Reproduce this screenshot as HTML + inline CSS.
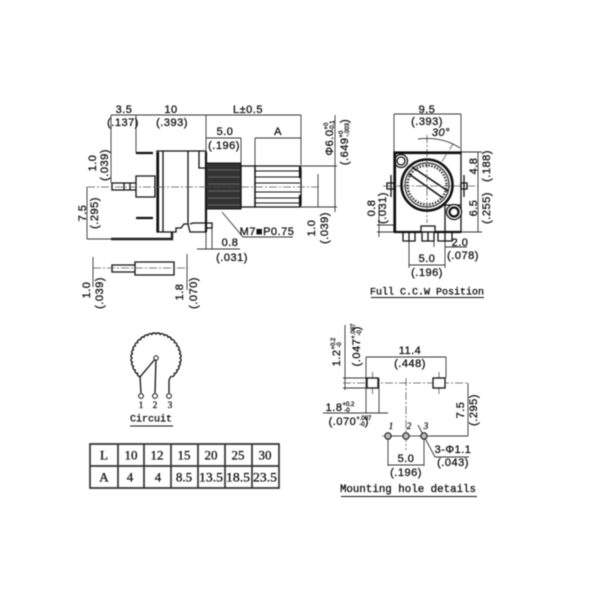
<!DOCTYPE html>
<html><head><meta charset="utf-8"><style>
html,body{margin:0;padding:0;background:#fff}
svg{display:block;filter:blur(.5px)}
text{font-family:"Liberation Sans",sans-serif;font-size:11px;letter-spacing:.5px;fill:#111;stroke:#111;stroke-width:.3;text-anchor:middle;dominant-baseline:central}
.m{font-family:"Liberation Mono",monospace;font-size:10px;letter-spacing:0}
.t{font-family:"Liberation Serif",serif;font-size:13px;letter-spacing:0}
.s{font-size:6px;letter-spacing:0}
.d{fill:none;stroke:#333;stroke-width:.9}
.c{fill:none;stroke:#555;stroke-width:.8;stroke-dasharray:8 2 2 2}
.o{fill:none;stroke:#111;stroke-width:1.3}
.b{fill:none;stroke:#111;stroke-width:2.2}
</style></head><body>
<svg width="600" height="600" viewBox="0 0 600 600" xmlns="http://www.w3.org/2000/svg">
<rect width="600" height="600" fill="#fff"/>

<!-- SIDE VIEW -->
<path class="d" d="M111 115H301M111 115V183M136 115V153M206 115V150M301 115V165M206 138H241M241 138V163M255 138H301M255 138V166"/>
<path class="d" d="M300 166H337M300 207H337M335 115V212M318 174V207M87 187V239M87 239H111M206 232V249M212 226V249M197 249H240"/>
<path class="o" d="M157 151H206V232H190L188 224H184L181 228H176V232H157Z"/>
<path class="o" d="M163 151V232M188 151V224M199 151V168H206"/>
<path class="b" d="M206 152V232M158 152V232"/>
<path class="o" d="M136 176H155V197H136ZM112 183H136V190H112ZM124 183V190M130 183V190"/>
<path class="b" d="M136 153H153M136 218H153"/>
<path d="M111 239H172V232" fill="none" stroke="#222" stroke-width="2.400"/>
<path class="o" d="M190 224L193 223H212V228H206"/>
<rect x="206" y="163" width="35" height="46" fill="#333" stroke="#111"/>
<path d="M208 170H240M208 177H240M208 184H240M208 191H240M208 198H240M208 205H240" stroke="#777" stroke-width=".7"/>
<path class="o" d="M241 166H255V207H241Z"/>
<path class="o" d="M255 166H299Q301 166 301 170V203Q301 207 299 207H255Z"/>
<path d="M255 171H300M255 177H300M255 183H300M255 192H300M255 198H300M255 203H300" stroke="#111" stroke-width="1.100"/>
<path class="b" d="M300 167V178M300 195V206"/>
<path class="c" d="M87 187H320"/>
<path class="d" d="M222 212L243 237H293"/>

<text x="124" y="110">3.5</text><text x="123" y="123">(.137)</text>
<text x="171" y="110">10</text><text x="172" y="123">(.393)</text>
<text x="248" y="110">L±0.5</text>
<text x="225" y="132">5.0</text><text x="224" y="146">(.196)</text>
<text x="278" y="132">A</text>
<text x="267" y="232">M7■P0.75</text>
<text x="230" y="243">0.8</text><text x="232" y="258">(.031)</text>
<text transform="translate(330 138) rotate(-90)">Φ6.0<tspan class="s" dy="-3">+0</tspan><tspan class="s" dy="6" dx="-8">-0.1</tspan></text>
<text transform="translate(345 142) rotate(-90)">(.649<tspan class="s" dy="-3">+0</tspan><tspan class="s" dy="6" dx="-6">-.003</tspan><tspan dy="-3">)</tspan></text>
<text transform="translate(312 228) rotate(-90)">1.0</text>
<text transform="translate(325 228) rotate(-90)">(.039)</text>
<text transform="translate(93 163) rotate(-90)">1.0</text>
<text transform="translate(105 165) rotate(-90)">(.039)</text>
<text transform="translate(83 213) rotate(-90)">7.5</text>
<text transform="translate(95 213) rotate(-90)">(.295)</text>

<!-- PIN DETAIL -->
<path class="d" d="M93 257V287M187 254V290"/>
<path class="o" d="M112 265H135V272H112ZM135 262H174V275H135Z"/>
<path class="c" d="M93 268H188"/>
<text transform="translate(87 290) rotate(-90)">1.0</text>
<text transform="translate(100 293) rotate(-90)">(.039)</text>
<text transform="translate(180 292) rotate(-90)">1.8</text>
<text transform="translate(194 293) rotate(-90)">(.070)</text>

<!-- FRONT VIEW -->
<path class="d" d="M394 114H461M394 114V152M461 114V152M461 152H482M461 232H482M478 152V232M379 208V237M377 225H394M377 232H394M409 241V268M445 241V268M409 265H445M434 241V247M445 247H467"/>
<path class="c" d="M427 135V223M383 186H478M427 185L453 144"/>
<path class="d" d="M418 139Q442 136 460 148"/>
<path class="o" d="M394 152H461V232H394Z"/>
<path class="b" d="M394 153H461M394 232H421M435 232H461M395 153V232"/>
<path class="o" d="M387 183H394V189H387ZM461 183H467V189H461ZM391 175V197M464 175V197"/>
<path class="o" d="M403 232H415V241H403ZM422 232H434V241H422ZM438 232H452V241H438ZM421 232V226H435V232M428 232V241M409 232V241M445 232V241"/>
<path class="o" d="M445 232V205H461"/>
<circle cx="401" cy="161" r="6.5" class="o" stroke-width="1.5"/><circle cx="401" cy="161" r="4" class="o"/>
<circle cx="454" cy="212" r="7.5" fill="#fff" stroke="#111" stroke-width="1.3"/><circle cx="454" cy="212" r="4.5" fill="none" stroke="#111" stroke-width="2.200"/>
<circle cx="427" cy="185" r="25.500" fill="#fff" stroke="#111" stroke-width="2.600"/>
<circle cx="427" cy="185" r="22" fill="none" stroke="#333" stroke-width="1.200"/>
<circle cx="427" cy="185" r="19.5" fill="none" stroke="#333" stroke-width="2.400" stroke-dasharray="1.5 1.5"/>
<path d="M409 174L443 198M412 167L448 191" stroke="#111" stroke-width="1.600" fill="none"/>
<path class="c" d="M402 186H452M427 160V210"/>
<text x="427" y="110">9.5</text><text x="427" y="122">(.393)</text>
<text x="441" y="133" font-style="italic">30°</text>
<text transform="translate(474 166) rotate(-90)">4.8</text>
<text transform="translate(487 166) rotate(-90)">(.188)</text>
<text transform="translate(474 208) rotate(-90)">6.5</text>
<text transform="translate(487 208) rotate(-90)">(.255)</text>
<text transform="translate(372 208) rotate(-90)">0.8</text>
<text transform="translate(383 208) rotate(-90)">(.031)</text>
<text x="460" y="243">2.0</text><text x="463" y="256">(.078)</text>
<text x="427" y="259">5.0</text><text x="427" y="273">(.196)</text>
<text class="m" x="427" y="293">Full C.C.W Position</text>
<path d="M371 297.500H484" stroke="#111" stroke-width="1"/>

<!-- CIRCUIT -->
<path fill="none" stroke="#111" stroke-width="1.300" d="M140.600 376.400A2.4 2.4 0 0 1 137.600 373.400A2.4 2.4 0 0 1 135.200 370A2.4 2.4 0 0 1 133.400 366.200A2.4 2.4 0 0 1 132.400 362.200A2.4 2.4 0 0 1 132 358A2.4 2.4 0 0 1 132.400 353.800A2.4 2.4 0 0 1 133.400 349.800A2.4 2.4 0 0 1 135.200 346A2.4 2.4 0 0 1 137.600 342.600A2.4 2.4 0 0 1 140.600 339.600A2.4 2.4 0 0 1 144 337.200A2.4 2.4 0 0 1 147.800 335.400A2.4 2.4 0 0 1 151.800 334.400A2.4 2.4 0 0 1 156 334A2.4 2.4 0 0 1 160.200 334.400A2.4 2.4 0 0 1 164.200 335.400A2.4 2.4 0 0 1 168 337.200A2.4 2.4 0 0 1 171.400 339.600A2.4 2.4 0 0 1 174.400 342.600A2.4 2.4 0 0 1 176.800 346A2.4 2.4 0 0 1 178.600 349.800A2.4 2.4 0 0 1 179.600 353.800A2.4 2.4 0 0 1 180 358A2.4 2.4 0 0 1 179.600 362.200A2.4 2.4 0 0 1 178.600 366.200A2.4 2.4 0 0 1 176.800 370A2.4 2.4 0 0 1 174.400 373.400A2.4 2.4 0 0 1 171.400 376.400"/>
<path class="o" d="M156 358L140 377L141 393M156 358L155 393M171 376L169 380V393"/>
<circle cx="156" cy="358" r="2.200" fill="#fff" stroke="#111"/>
<circle cx="141" cy="396" r="2.400" fill="#fff" stroke="#111"/><circle cx="155" cy="396" r="2.400" fill="#fff" stroke="#111"/><circle cx="169" cy="396" r="2.400" fill="#fff" stroke="#111"/>
<text class="t" style="font-size:9px" x="141" y="405">1</text><text class="t" style="font-size:9px" x="155" y="405">2</text><text class="t" style="font-size:9px" x="170" y="405">3</text>
<text class="m" x="151" y="420">Circuit</text>
<path d="M130 426H173" stroke="#111" stroke-width="1"/>

<!-- TABLE -->
<path fill="none" stroke="#333" stroke-width="1.700" d="M90 444H279V488H90ZM90 466H279M118 444V488M144 444V488M171 444V488M198 444V488M225 444V488M252 444V488"/>
<text class="t" x="104" y="455">L</text><text class="t" x="131" y="455">10</text><text class="t" x="157" y="455">12</text><text class="t" x="184" y="455">15</text><text class="t" x="211" y="455">20</text><text class="t" x="238" y="455">25</text><text class="t" x="265" y="455">30</text>
<text class="t" x="104" y="477">A</text><text class="t" x="130" y="477">4</text><text class="t" x="158" y="477">4</text><text class="t" x="184" y="477">8.5</text><text class="t" x="211" y="477" textLength="24" lengthAdjust="spacingAndGlyphs">13.5</text><text class="t" x="238" y="477" textLength="24" lengthAdjust="spacingAndGlyphs">18.5</text><text class="t" x="265" y="477" textLength="24" lengthAdjust="spacingAndGlyphs">23.5</text>

<!-- MOUNTING -->
<path class="d" d="M366 357H446M366 357V413M446 357V378M379 378V413M345 325V390M343 378H367M343 388H367M323 413H388M468 383V436M390 436H468M388 436V466M424 436V466M388 465H424M418 425L435 457H469"/>
<path class="c" d="M343 383H468M406 378V450M372.500 372V394M439 372V394"/>
<rect x="367" y="378" width="11" height="10" fill="#fff" stroke="#111" stroke-width="1.300"/>
<rect x="433" y="378" width="12" height="10" fill="#fff" stroke="#111" stroke-width="1.300"/>
<path class="c" d="M382 436H430"/>
<circle cx="388" cy="436" r="3.200" fill="#bbb" stroke="#111"/><circle cx="406" cy="436" r="3.200" fill="#bbb" stroke="#111"/><circle cx="424" cy="436" r="3.200" fill="#bbb" stroke="#111"/>
<text x="410" y="351">11.4</text><text x="410" y="364">(.448)</text>
<text transform="translate(337 352) rotate(-90)">1.2<tspan class="s" dy="-3">+0.2</tspan><tspan class="s" dy="6" dx="-10">-0</tspan></text>
<text transform="translate(357 345) rotate(-90)">(.047<tspan class="s" dy="-3">+.007</tspan><tspan class="s" dy="6" dx="-12">-0</tspan><tspan dy="-3">)</tspan></text>
<text x="340" y="408">1.8<tspan class="s" dy="-3">+0.2</tspan><tspan class="s" dy="6" dx="-10">-0</tspan></text>
<text x="350" y="422">(.070<tspan class="s" dy="-3">+.007</tspan><tspan class="s" dy="6" dx="-12">-0</tspan><tspan dy="-3">)</tspan></text>
<text transform="translate(461 410) rotate(-90)">7.5</text>
<text transform="translate(474 410) rotate(-90)">(.295)</text>
<text class="t" style="font-size:9px;font-style:italic" x="391" y="426">1</text><text class="t" style="font-size:9px;font-style:italic" x="409" y="426">2</text><text class="t" style="font-size:9px;font-style:italic" x="426" y="426">3</text>
<text x="406" y="459">5.0</text><text x="406" y="473">(.196)</text>
<text x="453" y="450">3-Φ1.1</text><text x="453" y="463">(.043)</text>
<text class="m" style="font-size:10.800px" x="408" y="490">Mounting hole details</text>
<path d="M341 496.500H477" stroke="#111" stroke-width="1"/>
</svg>
</body></html>
